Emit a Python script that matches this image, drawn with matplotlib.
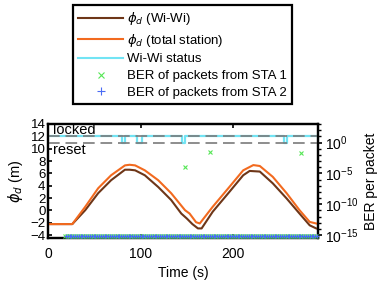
"""Wi-Wi ranging offset vs. total station with packet BER."""

import numpy as np
import matplotlib
matplotlib.use("Agg")
import matplotlib.pyplot as plt
from matplotlib.lines import Line2D
from matplotlib.ticker import LogLocator, NullFormatter

plt.rcParams["font.family"] = ["Liberation Sans", "DejaVu Sans"]
plt.rcParams["mathtext.fontset"] = "dejavusans"
plt.rcParams["font.size"] = 10

# phi_d from the total station (orange) and from Wi-Wi (brown), metres
t_station = [0, 26, 40, 54, 68, 83, 88, 94, 104.5, 119, 133, 148, 153, 160, 164,
             178, 196, 211, 222, 229, 243, 258, 272, 283, 290]
phi_station = [-2.2, -2.2, 0.6, 3.6, 5.7, 7.3, 7.4, 7.3, 6.5, 4.9, 2.8, 0.05, -0.5,
               -1.9, -2.1, 0.6, 3.8, 6.5, 7.35, 7.2, 5.45, 2.8, 0.05, -1.85, -2.1]

t_wiwi = [0, 26, 40, 54, 68, 83, 88, 94, 104.5, 119, 133, 144, 150, 156, 162, 166,
          178, 196, 211, 218, 229, 243, 258, 272, 283, 290]
phi_wiwi = [-2.2, -2.2, 0.05, 2.8, 4.9, 6.6, 6.6, 6.5, 5.7, 3.8, 1.7, -0.5, -1.3,
            -2.2, -2.9, -2.9, -0.2, 3.0, 5.7, 6.4, 6.3, 4.4, 1.95, -0.5, -2.4, -2.9]

# Wi-Wi status: locked except for short resets
reset_start = [80, 96, 145, 255]
reset_end = [83, 101, 148, 258]
LOCKED, RESET = 12, 11

# packet BER; most packets error free (plotted at floor)
packet_start, packet_end, packet_step = 18, 290, 2
ber_floor = 10 ** -15.2
sta1_bad_t = [148, 175, 274]
sta1_bad_ber = [10 ** -3.9, 10 ** -1.5, 10 ** -1.74]

C_BROWN = "#6e3618"
C_ORANGE = "#f26a1f"
C_CYAN = "#72e4f4"
C_GREEN = "#55e655"
C_BLUE = "#4a6cf5"

status_t = [0]
status_v = [LOCKED]
for s, e in zip(reset_start, reset_end):
    status_t += [s, e]
    status_v += [RESET, LOCKED]
status_t.append(292)
status_v.append(LOCKED)

packets = np.arange(packet_start, packet_end + 1, packet_step)

fig = plt.figure(figsize=(3.82, 2.87), dpi=100)
ax = fig.add_axes([0.1264, 0.1697, 0.7061, 0.3983])
ax.plot(status_t, status_v, drawstyle="steps-post", color=C_CYAN, lw=1.6, zorder=2)
for level in (LOCKED, RESET):
    ax.axhline(level, color="#7a7a7a", lw=1.2, dashes=(7, 3.5), zorder=3)
ax.plot(t_wiwi, phi_wiwi, color=C_BROWN, lw=1.5, zorder=4)
ax.plot(t_station, phi_station, color=C_ORANGE, lw=1.5, zorder=5)

ax.text(5, 13.0, "locked", va="center", ha="left", fontsize=10.5)
ax.text(5, 9.8, "reset", va="center", ha="left", fontsize=10.5)

ax.set_xlim(0, 292)
ax.set_ylim(-4.5, 14)
ax.set_xticks([0, 100, 200])
ax.set_yticks(range(-4, 15, 2))
ax.set_xlabel("Time (s)", labelpad=4)
ax.set_ylabel(r"$\phi_d$ (m)", labelpad=4, fontsize=10.5)
ax.tick_params(axis="x", direction="in", top=True, length=3, width=1.2, pad=6)
ax.tick_params(axis="y", direction="in", length=3, width=1.2, pad=2, labelsize=9.5)
for sp in ax.spines.values():
    sp.set_linewidth(1.6)

ax2 = ax.twinx()
ax2.set_yscale("log")
ax2.set_ylim(10 ** -15.5, 10 ** 3)
sta1_t = np.concatenate([packets, sta1_bad_t])
sta1_ber = np.concatenate([np.full(len(packets), ber_floor), sta1_bad_ber])
ax2.plot(sta1_t, sta1_ber, ls="none", marker="x", ms=3, mew=0.8, color=C_GREEN,
         clip_on=False, zorder=6)
ax2.plot(packets + 1, np.full(len(packets), ber_floor), ls="none", marker="+",
         ms=3.5, mew=0.8, color=C_BLUE, clip_on=False, zorder=6)
ax2.set_yticks([1e-15, 1e-10, 1e-5, 1e0])
ax2.yaxis.set_minor_locator(LogLocator(base=10, subs=(1.0,), numticks=40))
ax2.yaxis.set_minor_formatter(NullFormatter())
ax2.tick_params(axis="y", which="major", direction="out", length=3, width=1.2, pad=2)
ax2.tick_params(axis="y", which="minor", direction="out", length=2, width=1.0)
ax2.set_ylabel("BER per packet", labelpad=4)
for sp in ax2.spines.values():
    sp.set_linewidth(1.6)

handles = [
    Line2D([], [], color=C_BROWN, lw=1.5),
    Line2D([], [], color=C_ORANGE, lw=1.5),
    Line2D([], [], color=C_CYAN, lw=1.5),
    Line2D([], [], ls="none", marker="x", ms=5, mew=0.8, color=C_GREEN),
    Line2D([], [], ls="none", marker="+", ms=6, mew=0.8, color=C_BLUE),
]
labels = [r"$\phi_d$ (Wi-Wi)", r"$\phi_d$ (total station)", "Wi-Wi status",
          "BER of packets from STA 1", "BER of packets from STA 2"]
leg = fig.legend(handles, labels, loc="upper left", bbox_to_anchor=(0.191, 0.9826),
                 fontsize=9.5, frameon=True, fancybox=False, edgecolor="black",
                 framealpha=1, handlelength=3.4, handletextpad=0.3,
                 labelspacing=0.34, borderpad=0.4, borderaxespad=0)
leg.get_frame().set_linewidth(1.6)

fig.savefig("out.png", dpi=100)
